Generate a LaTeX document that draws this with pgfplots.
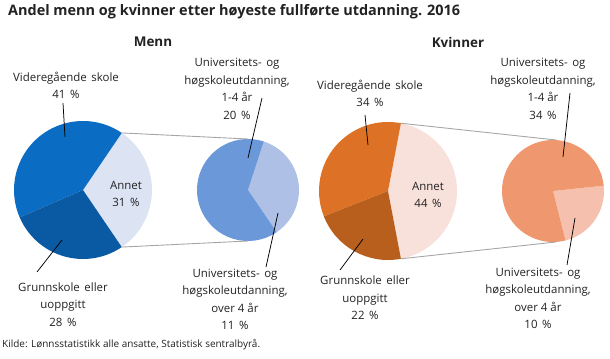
\documentclass[border=0pt]{standalone}
\usepackage{pgfplots}
\usepackage{pgfplotstable}
\pgfplotsset{compat=1.18}
\usepackage{fontspec}
\setmainfont{Open Sans}
\definecolor{txt}{HTML}{222222}
\definecolor{mVg}{HTML}{0B6CC3}
\definecolor{mGr}{HTML}{0A5AA3}
\definecolor{mAn}{HTML}{DCE3F3}
\definecolor{mU1}{HTML}{6B98D8}
\definecolor{mU4}{HTML}{AEC0E6}
\definecolor{kVg}{HTML}{DD7226}
\definecolor{kGr}{HTML}{B85F1D}
\definecolor{kAn}{HTML}{F9E1DB}
\definecolor{kU1}{HTML}{EF976E}
\definecolor{kU4}{HTML}{F5C1AE}
\definecolor{conn}{HTML}{A6A6A6}

% shares in per cent
\pgfplotstableread{
group Vg Grunn Annet Uni14 Uni4
Menn 41 28 31 20 11
Kvinner 34 22 44 34 10
}\shares

\newcommand{\slice}[6]{% cx cy r start end colour
  \fill[#6] (axis cs:#1,#2) -- (axis cs:{#1+#3*cos(#4)},{#2+#3*sin(#4)})
    arc[start angle=#4, end angle=#5, radius=#3bp] -- cycle;}
\newcommand{\lbl}{\fontsize{11.5}{17.6}\selectfont}
\newcommand{\sep}{\hspace{0.4em}}

\begin{document}
\begin{tikzpicture}
% read values
\pgfplotstablegetelem{0}{Vg}\of\shares \let\mvg\pgfplotsretval
\pgfplotstablegetelem{0}{Grunn}\of\shares \let\mgr\pgfplotsretval
\pgfplotstablegetelem{0}{Annet}\of\shares \let\man\pgfplotsretval
\pgfplotstablegetelem{0}{Uni14}\of\shares \let\muone\pgfplotsretval
\pgfplotstablegetelem{0}{Uni4}\of\shares \let\mufour\pgfplotsretval
\pgfplotstablegetelem{1}{Vg}\of\shares \let\kvg\pgfplotsretval
\pgfplotstablegetelem{1}{Grunn}\of\shares \let\kgr\pgfplotsretval
\pgfplotstablegetelem{1}{Annet}\of\shares \let\kan\pgfplotsretval
\pgfplotstablegetelem{1}{Uni14}\of\shares \let\kuone\pgfplotsretval
\pgfplotstablegetelem{1}{Uni4}\of\shares \let\kufour\pgfplotsretval
% angles, main pies (Annet centred on 0 deg)
\pgfmathsetmacro\mA{-\man*1.8}
\pgfmathsetmacro\mB{\man*1.8}
\pgfmathsetmacro\mC{\mB+\mvg*3.6}
\pgfmathsetmacro\mD{\mC+\mgr*3.6}
\pgfmathsetmacro\kA{-\kan*1.8}
\pgfmathsetmacro\kB{\kan*1.8}
\pgfmathsetmacro\kC{\kB+\kvg*3.6}
\pgfmathsetmacro\kD{\kC+\kgr*3.6}
% secondary pies
\pgfmathsetmacro\msT{72}
\pgfmathsetmacro\msS{\msT-\mufour/\man*360}
\pgfmathsetmacro\msE{\msS+360}
\pgfmathsetmacro\ksT{6}
\pgfmathsetmacro\ksS{\ksT-\kufour/\kan*360}
\pgfmathsetmacro\ksE{\ksS+360}
\begin{axis}[
  width=610bp, height=358bp, scale only axis,
  xmin=0, xmax=610, ymin=0, ymax=358,
  hide axis, clip=false,
]
\path (axis cs:0,0) rectangle (axis cs:610,358);
% ---- Menn
\slice{83}{168}{69}{\mA}{\mB}{mAn}
\slice{83}{168}{69}{\mB}{\mC}{mVg}
\slice{83}{168}{69}{\mC}{\mD}{mGr}
\slice{248}{168}{51}{\msS}{\msT}{mU4}
\slice{248}{168}{51}{\msT}{\msE}{mU1}
\draw[conn, line width=0.9bp] (axis cs:{83+69*cos(\mB)},{168+69*sin(\mB)}) -- (axis cs:248,219);
\draw[conn, line width=0.9bp] (axis cs:{83+69*cos(\mA)},{168+69*sin(\mA)}) -- (axis cs:248,117);
% ---- Kvinner
\slice{388}{167}{69}{\kA}{\kB}{kAn}
\slice{388}{167}{69}{\kB}{\kC}{kVg}
\slice{388}{167}{69}{\kC}{\kD}{kGr}
\slice{553}{167}{51}{\ksS}{\ksT}{kU4}
\slice{553}{167}{51}{\ksT}{\ksE}{kU1}
\draw[conn, line width=0.9bp] (axis cs:{388+69*cos(\kB)},{167+69*sin(\kB)}) -- (axis cs:556,218);
\draw[conn, line width=0.9bp] (axis cs:{388+69*cos(\kA)},{167+69*sin(\kA)}) -- (axis cs:556,116);
% leader lines
\begin{scope}[line width=0.75bp, black]
\draw (axis cs:63,255) -- (axis cs:65,221);
\draw (axis cs:262,260) -- (axis cs:248,200);
\draw (axis cs:37,86) -- (axis cs:62,118);
\draw (axis cs:266,91) -- (axis cs:278,145);
\draw (axis cs:365,243) -- (axis cs:368,213);
\draw (axis cs:570,265) -- (axis cs:563,201);
\draw (axis cs:340,88) -- (axis cs:363,119);
\draw (axis cs:567,93) -- (axis cs:575,140);
\end{scope}
% texts
\begin{scope}[every node/.style={text=txt, align=center, inner sep=0pt}]
\node[anchor=west, font=\fontsize{14.5}{17}\selectfont\bfseries] at (axis cs:8,346) {Andel menn og kvinner etter høyeste fullførte utdanning. 2016};
\node[font=\fontsize{13.5}{16}\selectfont\bfseries] at (axis cs:153,316) {Menn};
\node[font=\fontsize{13.5}{16}\selectfont\bfseries] at (axis cs:458,316) {Kvinner};
\node[font=\lbl] at (axis cs:66,272.5) {Videregående\sep skole\\41\sep\%};
\node[font=\lbl] at (axis cs:126,164) {Annet\\31\sep\%};
\node[font=\lbl] at (axis cs:237,269) {Universitets-\sep og\\høgskoleutdanning,\\1-4 år\\20\sep\%};
\node[font=\lbl] at (axis cs:63,53.5) {Grunnskole\sep eller\\uoppgitt\\28\sep\%};
\node[font=\lbl] at (axis cs:235,58.5) {Universitets-\sep og\\høgskoleutdanning,\\over 4 år\\11\sep\%};
\node[font=\lbl] at (axis cs:370,264.5) {Videregående\sep skole\\34\sep\%};
\node[font=\lbl] at (axis cs:428,163) {Annet\\44\sep\%};
\node[font=\lbl] at (axis cs:543,269) {Universitets-\sep og\\høgskoleutdanning,\\1-4 år\\34\sep\%};
\node[font=\lbl] at (axis cs:365,60) {Grunnskole\sep eller\\uoppgitt\\22\sep\%};
\node[font=\lbl] at (axis cs:538,59.5) {Universitets-\sep og\\høgskoleutdanning,\\over 4 år\\10\sep\%};
\node[anchor=west, font=\fontsize{10}{12}\selectfont] at (axis cs:2,13) {Kilde: Lønnsstatistikk alle ansatte, Statistisk sentralbyrå.};
\end{scope}
\end{axis}
\end{tikzpicture}
\end{document}
